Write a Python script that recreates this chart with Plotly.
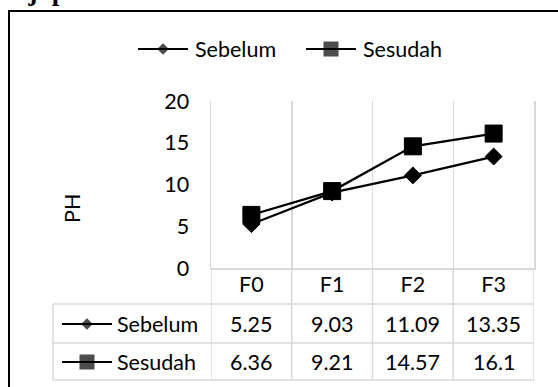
import plotly.graph_objects as go

# ---- data ----
categories = ["F0", "F1", "F2", "F3"]
sebelum = [5.25, 9.03, 11.09, 13.35]
sesudah = [6.36, 9.21, 14.57, 16.1]
series_names = ["Sebelum", "Sesudah"]
y_ticks = [0, 5, 10, 15, 20]
y_title = "PH"
page_heading = "Uji pH"

# ---- layout constants (pixels) ----
W, H = 558, 387
PLOT_L, PLOT_R, PLOT_T, PLOT_B = 211, 534, 101, 268
TABLE_L = 53
ROW_LINES = [304, 343, 380]
ROW_CENTERS = [324, 362]
GRID = "#d9d9d9"
FONT = "Lato"
FS = 21.5


def px(x):
    return x / W


def py(y):
    return 1 - y / H


symbols = ["diamond", "square"]
plot_sizes = [13, 17]
key_sizes = [9, 15]
values = [sebelum, sesudah]

fig = go.Figure()

for name, vals, sym, ms in zip(series_names, values, symbols, plot_sizes):
    fig.add_trace(go.Scatter(
        x=categories, y=vals, name=name, mode="lines+markers",
        line=dict(color="black", width=2.25),
        marker=dict(symbol=sym, size=ms, color="black",
                    line=dict(color="black", width=1)),
        showlegend=False, cliponaxis=False,
    ))

# custom legend keys (top legend and table row keys) on an overlay pixel axis
legend_keys = [(138, 49, 193), (306, 49, 361)]
table_keys = [(62, ROW_CENTERS[0], 115), (62, ROW_CENTERS[1], 115)]
KEY_LEN = 50
annotations = []
for i, (name, sym, ks) in enumerate(zip(series_names, symbols, key_sizes)):
    for (x0, yc, tx) in (legend_keys[i], table_keys[i]):
        fig.add_trace(go.Scatter(
            x=[x0, x0 + KEY_LEN / 2, x0 + KEY_LEN], y=[yc, yc, yc],
            mode="lines+markers", xaxis="x2", yaxis="y2",
            line=dict(color="black", width=2),
            marker=dict(symbol=sym, size=[0, ks, 0], color="black",
                        line=dict(width=0)),
            showlegend=False, hoverinfo="skip", cliponaxis=False,
        ))
        annotations.append(dict(
            x=px(tx), y=py(yc), xref="paper", yref="paper", text=name,
            showarrow=False, xanchor="left", yanchor="middle",
            font=dict(family=FONT, size=FS, color="black"),
        ))

# table values
for vals, yc in zip(values, ROW_CENTERS):
    for cat, v in zip(categories, vals):
        annotations.append(dict(
            x=cat, y=py(yc), xref="x", yref="paper", text=f"{v:g}",
            showarrow=False, xanchor="center", yanchor="middle",
            font=dict(family=FONT, size=FS, color="black"),
        ))

# y axis title
annotations.append(dict(
    x=px(72), y=py(209), xref="paper", yref="paper", text=y_title,
    textangle=-90, showarrow=False, xanchor="center", yanchor="middle",
    font=dict(family=FONT, size=FS, color="black"),
))

# heading text cut off at top of the image
annotations.append(dict(
    x=px(7), y=py(-9.5), xref="paper", yref="paper", text=f"<b>{page_heading}</b>",
    showarrow=False, xanchor="left", yanchor="middle",
    font=dict(family="Liberation Serif", size=27, color="black"),
))

shapes = []
# table horizontal lines
for yl in ROW_LINES:
    shapes.append(dict(type="line", xref="paper", yref="paper",
                       x0=px(TABLE_L), x1=px(PLOT_R), y0=py(yl), y1=py(yl),
                       line=dict(color=GRID, width=1.5), layer="below"))
# table vertical lines
shapes.append(dict(type="line", xref="paper", yref="paper",
                   x0=px(TABLE_L), x1=px(TABLE_L), y0=py(ROW_LINES[0]), y1=py(ROW_LINES[-1]),
                   line=dict(color=GRID, width=1.5), layer="below"))
for k in range(len(categories) + 1):
    shapes.append(dict(type="line", xref="x", yref="paper",
                       x0=k - 0.5, x1=k - 0.5, y0=py(PLOT_B), y1=py(ROW_LINES[-1]),
                       line=dict(color=GRID, width=1.5), layer="below"))
# outer frame (extends past right and bottom edges)
shapes.append(dict(type="rect", xref="paper", yref="paper",
                   x0=px(9), x1=px(W + 40), y0=py(11), y1=py(H + 40),
                   line=dict(color="black", width=2), fillcolor="rgba(0,0,0,0)"))

fig.update_layout(
    width=W, height=H, autosize=False,
    margin=dict(l=0, r=0, t=0, b=0, pad=0, autoexpand=False),
    paper_bgcolor="white", plot_bgcolor="rgba(0,0,0,0)",
    showlegend=False,
    font=dict(family=FONT, size=FS, color="black"),
    xaxis=dict(
        domain=[px(PLOT_L), px(PLOT_R)], type="category",
        range=[-0.5, len(categories) - 0.5],
        tickson="boundaries", ticks="", showgrid=True, gridcolor=GRID, gridwidth=1.5,
        showline=True, linecolor=GRID, linewidth=1.5,
        tickfont=dict(family=FONT, size=FS, color="black"),
        ticklabelstandoff=-3, zeroline=False, fixedrange=True,
    ),
    yaxis=dict(
        domain=[py(PLOT_B), py(PLOT_T)], range=[0, 20], tickvals=y_ticks,
        ticks="", showgrid=False, zeroline=False,
        showline=True, mirror=True, linecolor=GRID, linewidth=1.5,
        tickfont=dict(family=FONT, size=FS, color="black"),
        ticklabelstandoff=16, fixedrange=True,
    ),
    xaxis2=dict(domain=[0, 1], range=[0, W], visible=False, anchor="y2", fixedrange=True),
    yaxis2=dict(domain=[0, 1], range=[H, 0], visible=False, anchor="x2", fixedrange=True),
    annotations=annotations,
    shapes=shapes,
)

fig.write_html("out.html", config={"displayModeBar": False, "staticPlot": True},
               post_script="document.body.style.margin='0';")
